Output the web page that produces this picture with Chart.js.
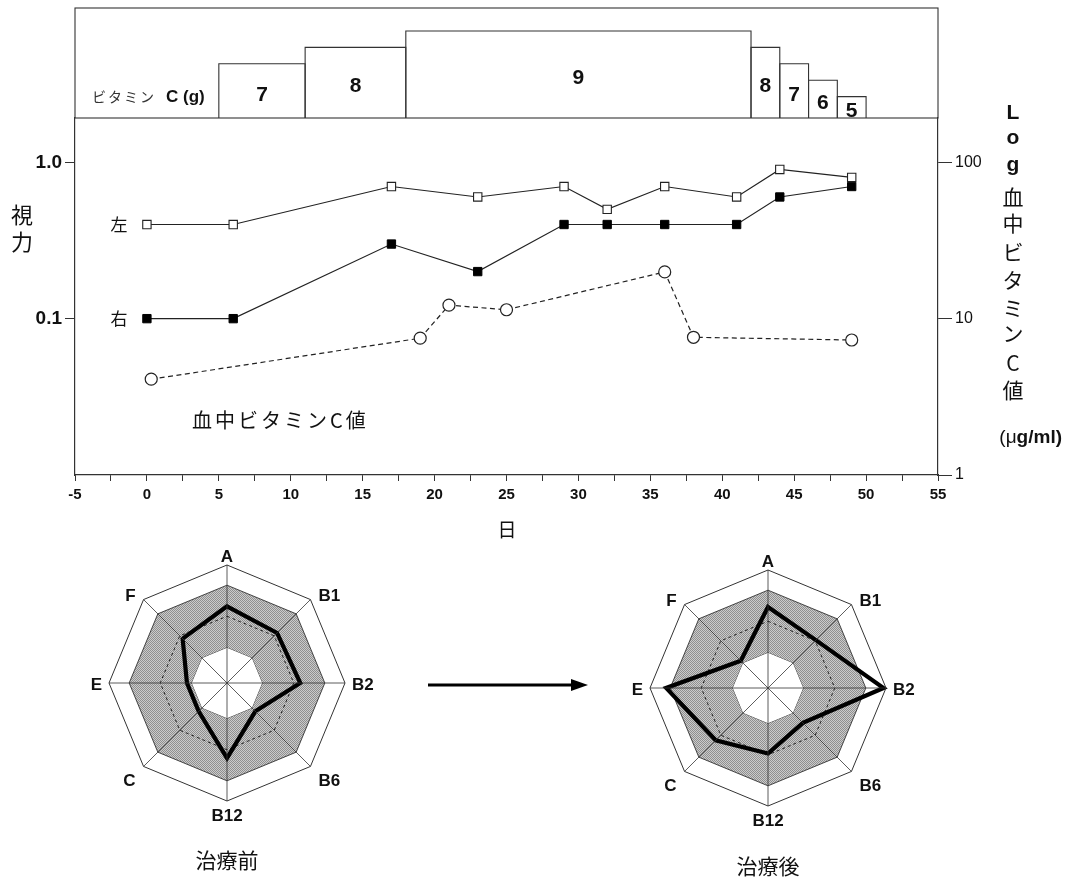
<!DOCTYPE html>
<html lang="ja">
<head>
<meta charset="utf-8">
<title>ビタミンC投与と視力・血中ビタミンC値</title>
<script src="https://cdn.jsdelivr.net/npm/chart.js@4.4.1/dist/chart.umd.min.js"></script>
<style>
  html, body { margin: 0; padding: 0; background: #fff; }
  #wrap { position: relative; width: 1065px; height: 881px; overflow: hidden; background: #fff; }
  canvas { position: absolute; }
</style>
</head>
<body>
<div id="wrap">
  <canvas id="mainChart" width="1065" height="881" style="left:0;top:0;width:1065px;height:881px"></canvas>
  <canvas id="doseChart" width="1065" height="130" style="left:0;top:0;width:1065px;height:130px"></canvas>
  <canvas id="radarBefore" width="320" height="360" style="left:67px;top:523px;width:320px;height:360px"></canvas>
  <canvas id="radarAfter" width="320" height="360" style="left:608px;top:528px;width:320px;height:360px"></canvas>
</div>
<script>
// ---- data ----
// vitamin C dosage periods (days) and daily dose (g)
const doseStart = [5, 11, 18, 42, 44, 46, 48];
const doseEnd   = [11, 18, 42, 44, 46, 48, 50];
const doseGrams = [7, 8, 9, 8, 7, 6, 5];

// visual acuity (左 = left eye, 右 = right eye)
const visionDays  = [0, 6, 17, 23, 29, 32, 36, 41, 44, 49];
const visionLeft  = [0.4, 0.4, 0.7, 0.6, 0.7, 0.5, 0.7, 0.6, 0.9, 0.8];
const visionRight = [0.1, 0.1, 0.3, 0.2, 0.4, 0.4, 0.4, 0.4, 0.6, 0.7];

// blood vitamin C level (µg/ml)
const vitCDays  = [0.3, 19, 21, 25, 36, 38, 49];
const vitCLevel = [4.1, 7.5, 12.2, 11.4, 19.9, 7.6, 7.3];

// axis ticks
const dayTicks    = [-5, 0, 5, 10, 15, 20, 25, 30, 35, 40, 45, 50, 55];
const visionTicks = [0.1, 1.0];
const vitCTicks   = [1, 10, 100];

// vitamin profile radar (治療前 / 治療後)
const radarAxes    = ['A', 'B1', 'B2', 'B6', 'B12', 'C', 'E', 'F'];
const beforeScores = [2.32, 2.13, 2.21, 1.14, 2.27, 1.14, 1.14, 1.87];
const afterScores  = [2.46, 2.03, 3.57, 1.44, 1.96, 2.23, 3.13, 1.09];
const normalLow  = 1;
const normalMean = 2;
const normalHigh = 3;

// ---- shared styles ----
const LATIN = '"Liberation Sans", Arial, Helvetica, sans-serif';
const CJK = '"Noto Sans CJK JP", "Noto Sans", sans-serif';
const INK = '#111';
const LINE = '#333';

const DOSE_FLOOR = 3.7;
const DOSE_CEIL = 10.4;
const RADAR_MIN = -0.15;
const RADAR_MAX = 3.65;

Chart.defaults.animation = false;
Chart.defaults.responsive = false;
Chart.defaults.plugins.legend.display = false;
Chart.defaults.plugins.tooltip.enabled = false;

// ---- main chart: visual acuity + blood vitamin C ----
const minorDays = [];
for (let i = 0; i < dayTicks.length - 1; i++) minorDays.push((dayTicks[i] + dayTicks[i + 1]) / 2);
const allDayTicks = dayTicks.concat(minorDays).sort((a, b) => a - b);

const mainNotes = {
  id: 'mainNotes',
  afterDraw(chart) {
    const ctx = chart.ctx;
    const xs = chart.scales.x, yv = chart.scales.yV;
    ctx.save();
    ctx.fillStyle = INK;
    ctx.textAlign = 'center';
    ctx.textBaseline = 'middle';

    // left axis title, written vertically
    ctx.font = '22px ' + CJK;
    ctx.fillText('視', 22, 215);
    ctx.fillText('力', 22, 242);

    // eye labels beside the first points
    ctx.font = '17px ' + CJK;
    const x0 = xs.getPixelForValue(visionDays[0]) - 28;
    ctx.fillText('左', x0, yv.getPixelForValue(visionLeft[0]));
    ctx.fillText('右', x0, yv.getPixelForValue(visionRight[0]));

    // series caption for the dashed line
    ctx.font = '20px ' + CJK;
    ctx.textAlign = 'left';
    ctx.letterSpacing = '3px';
    ctx.fillText('血中ビタミンC値', 192, 420);
    ctx.letterSpacing = '0px';

    // x axis title
    ctx.textAlign = 'center';
    ctx.font = '19px ' + CJK;
    ctx.fillText('日', 507, 530);

    // right axis title column
    const colX = 1013;
    ctx.font = 'bold 21px ' + LATIN;
    [['L', 113], ['o', 138], ['g', 165]].forEach(([t, y]) => ctx.fillText(t, colX, y));
    ctx.font = '21px ' + CJK;
    [['血', 197], ['中', 223], ['ビ', 252], ['タ', 280], ['ミ', 308], ['ン', 333], ['C', 363], ['値', 390]]
      .forEach(([t, y]) => ctx.fillText(t, colX, y));
    ctx.textAlign = 'right';
    ctx.font = 'bold 19px ' + LATIN;
    const unitBold = 'g/ml)';
    const wBold = ctx.measureText(unitBold).width;
    ctx.fillText(unitBold, 1062, 438);
    ctx.font = '19px ' + LATIN;
    ctx.fillText('(\u03bc', 1062 - wBold, 438);

    // arrow between the two radar charts
    ctx.strokeStyle = '#000';
    ctx.lineWidth = 3;
    ctx.beginPath();
    ctx.moveTo(428, 685);
    ctx.lineTo(574, 685);
    ctx.stroke();
    ctx.fillStyle = '#000';
    ctx.beginPath();
    ctx.moveTo(571, 679);
    ctx.lineTo(588, 685);
    ctx.lineTo(571, 691);
    ctx.closePath();
    ctx.fill();
    ctx.restore();
  }
};

new Chart(document.getElementById('mainChart'), {
  type: 'line',
  data: {
    datasets: [
      {
        label: '左',
        data: visionDays.map((d, i) => ({ x: d, y: visionLeft[i] })),
        yAxisID: 'yV',
        borderColor: '#222',
        borderWidth: 1.2,
        pointStyle: 'rect',
        pointRadius: 5.9,
        pointBackgroundColor: '#fff',
        pointBorderColor: '#222',
        pointBorderWidth: 1.1,
        tension: 0
      },
      {
        label: '右',
        data: visionDays.map((d, i) => ({ x: d, y: visionRight[i] })),
        yAxisID: 'yV',
        borderColor: '#222',
        borderWidth: 1.2,
        pointStyle: 'rect',
        pointRadius: 5.9,
        pointBackgroundColor: '#000',
        pointBorderColor: '#000',
        pointBorderWidth: 1,
        tension: 0
      },
      {
        label: '血中ビタミンC値',
        data: vitCDays.map((d, i) => ({ x: d, y: vitCLevel[i] })),
        yAxisID: 'yC',
        borderColor: '#222',
        borderWidth: 1.2,
        borderDash: [5, 3.5],
        pointStyle: 'circle',
        pointRadius: 6,
        pointBackgroundColor: '#fff',
        pointBorderColor: '#222',
        pointBorderWidth: 1.2,
        tension: 0
      }
    ]
  },
  options: {
    layout: { padding: { top: 118, left: 0, right: 0, bottom: 366 } },
    scales: {
      x: {
        type: 'linear',
        position: 'bottom',
        min: -5,
        max: 55,
        afterBuildTicks: s => { s.ticks = allDayTicks.map(v => ({ value: v })); },
        afterFit: s => { s.height = 40; },
        ticks: {
          autoSkip: false,
          maxRotation: 0,
          padding: 5,
          color: INK,
          font: { family: LATIN, size: 15, weight: 'bold' },
          callback: v => (dayTicks.includes(v) ? String(v) : '')
        },
        grid: { drawOnChartArea: false, tickLength: 6, color: LINE, lineWidth: 1 },
        border: { color: LINE, width: 1.2 }
      },
      yV: {
        type: 'logarithmic',
        position: 'left',
        min: 0.01,
        max: 1.92,
        afterBuildTicks: s => { s.ticks = visionTicks.map(v => ({ value: v })); },
        afterFit: s => { s.width = 75; },
        ticks: {
          padding: 3,
          color: INK,
          font: { family: LATIN, size: 19, weight: 'bold' },
          callback: v => Number(v).toFixed(1)
        },
        grid: { drawOnChartArea: false, tickLength: 10, color: LINE, lineWidth: 1 },
        border: { color: LINE, width: 1.2 }
      },
      yC: {
        type: 'logarithmic',
        position: 'right',
        min: 1,
        max: 192,
        afterBuildTicks: s => { s.ticks = vitCTicks.map(v => ({ value: v })); },
        afterFit: s => { s.width = 127; },
        ticks: {
          padding: 3,
          color: INK,
          font: { family: LATIN, size: 16 },
          callback: v => String(v)
        },
        grid: { drawOnChartArea: false, tickLength: 14, color: LINE, lineWidth: 1 },
        border: { color: LINE, width: 1.2 }
      }
    }
  },
  plugins: [mainNotes]
});

// ---- dose chart: daily vitamin C (g) ----
const doseNotes = {
  id: 'doseNotes',
  afterDatasetsDraw(chart) {
    const ctx = chart.ctx;
    const xs = chart.scales.x, ys = chart.scales.y;
    const a = chart.chartArea;
    ctx.save();
    ctx.strokeStyle = LINE;
    ctx.lineWidth = 1.1;
    ctx.strokeRect(a.left, a.top, a.right - a.left, a.bottom - a.top);

    ctx.fillStyle = INK;
    ctx.textAlign = 'center';
    ctx.textBaseline = 'middle';
    ctx.font = 'bold 21px ' + LATIN;
    doseGrams.forEach((g, i) => {
      const x = xs.getPixelForValue((doseStart[i] + doseEnd[i]) / 2);
      const y = (ys.getPixelForValue(g) + ys.bottom) / 2 + 4;
      ctx.fillText(String(g), x, y);
    });

    ctx.textAlign = 'left';
    ctx.font = '14px ' + CJK;
    ctx.letterSpacing = '2px';
    ctx.fillStyle = '#333';
    ctx.fillText('ビタミン', 92, 97);
    ctx.letterSpacing = '0px';
    ctx.fillStyle = INK;
    ctx.font = 'bold 17px ' + LATIN;
    ctx.fillText('C (g)', 166, 97);
    ctx.restore();
  }
};

new Chart(document.getElementById('doseChart'), {
  type: 'line',
  data: {
    datasets: doseGrams.map((g, i) => ({
      label: g + ' g',
      data: [
        { x: doseStart[i], y: DOSE_FLOOR },
        { x: doseStart[i], y: g },
        { x: doseEnd[i], y: g },
        { x: doseEnd[i], y: DOSE_FLOOR }
      ],
      borderColor: LINE,
      borderWidth: 1.1,
      pointRadius: 0,
      fill: false,
      tension: 0
    }))
  },
  options: {
    layout: { padding: { left: 75, right: 127, top: 8, bottom: 12 } },
    scales: {
      x: { type: 'linear', min: -5, max: 55, display: false },
      y: { type: 'linear', min: DOSE_FLOOR, max: DOSE_CEIL, display: false }
    }
  },
  plugins: [doseNotes]
});

// ---- radar charts ----
// stippled grey for the normal band
function stipple() {
  const c = document.createElement('canvas');
  c.width = 2; c.height = 2;
  const g = c.getContext('2d');
  g.fillStyle = '#cbcbcb';
  g.fillRect(0, 0, 2, 2);
  g.fillStyle = '#8f8f8f';
  g.fillRect(0, 0, 1, 1);
  g.fillRect(1, 1, 1, 1);
  return g.createPattern(c, 'repeat');
}
const bandFill = stipple();

const radarNotes = {
  id: 'radarNotes',
  afterDraw(chart, args, opts) {
    const r = chart.scales.r;
    const ctx = chart.ctx;
    const R = r.drawingArea;
    ctx.save();
    ctx.fillStyle = INK;
    ctx.textBaseline = 'middle';
    ctx.font = 'bold 17px ' + LATIN;
    chart.data.labels.forEach((lab, i) => {
      const p = r.getPointPosition(i, R);
      const dx = p.x - r.xCenter, dy = p.y - r.yCenter;
      const diag = Math.abs(dx) > 1 && Math.abs(dy) > 1;
      let x = p.x, y = p.y, align = 'center';
      if (dx > 1) { align = 'left'; x += diag ? 8 : 7; }
      else if (dx < -1) { align = 'right'; x -= diag ? 8 : 7; }
      if (dy < -1) y -= diag ? 3 : 8;
      else if (dy > 1) y += 15;
      else y += 2;
      ctx.textAlign = align;
      ctx.fillText(lab, x, y);
    });
    ctx.textAlign = 'center';
    ctx.font = '21px ' + CJK;
    ctx.fillText(opts.title, r.xCenter, r.yCenter + opts.titleOffset);
    ctx.restore();
  }
};

function makeRadar(id, scores, title, titleOffset) {
  const ring = v => radarAxes.map(() => v);
  return new Chart(document.getElementById(id), {
    type: 'radar',
    data: {
      labels: radarAxes,
      datasets: [
        {
          label: title,
          data: scores,
          borderColor: '#000',
          borderWidth: 4.2,
          borderJoinStyle: 'miter',
          pointRadius: 0,
          fill: false,
          order: 0
        },
        {
          label: 'high',
          data: ring(normalHigh),
          borderColor: '#333',
          borderWidth: 0.9,
          backgroundColor: bandFill,
          pointRadius: 0,
          fill: '+1',
          order: 2
        },
        {
          label: 'low',
          data: ring(normalLow),
          borderColor: '#333',
          borderWidth: 0.9,
          pointRadius: 0,
          fill: false,
          order: 3
        },
        {
          label: 'mean',
          data: ring(normalMean),
          borderColor: '#222',
          borderWidth: 1,
          borderDash: [3, 3],
          pointRadius: 0,
          fill: false,
          order: 1
        }
      ]
    },
    options: {
      layout: { padding: { left: 42, right: 42, top: 42, bottom: 82 } },
      scales: {
        r: {
          min: RADAR_MIN,
          max: RADAR_MAX,
          afterBuildTicks: s => { s.ticks = [{ value: RADAR_MAX }]; },
          ticks: { display: false },
          pointLabels: { display: false },
          grid: { color: '#333', lineWidth: 1, z: 1 },
          angleLines: { color: '#333', lineWidth: 0.8 }
        }
      },
      plugins: { radarNotes: { title, titleOffset } }
    },
    plugins: [radarNotes]
  });
}

makeRadar('radarBefore', beforeScores, '治療前', 177);
makeRadar('radarAfter', afterScores, '治療後', 178);
</script>
</body>
</html>
